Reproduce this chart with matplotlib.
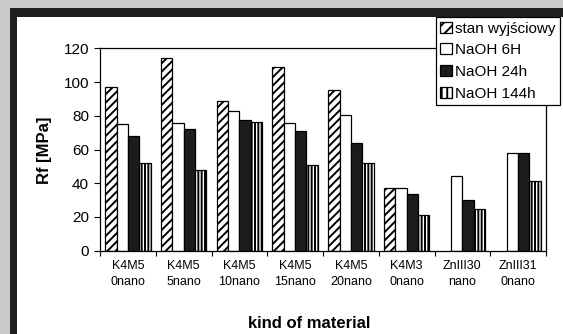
import matplotlib.pyplot as plt
import matplotlib.patches as mpatches
import numpy as np

plt.rcParams['font.family'] = ['Liberation Sans', 'DejaVu Sans']
plt.rcParams['hatch.linewidth'] = 1.4

# Data.
materials = ['K4M5\n0nano', 'K4M5\n5nano', 'K4M5\n10nano', 'K4M5\n15nano',
             'K4M5\n20nano', 'K4M3\n0nano', 'ZnIII30\nnano', 'ZnIII31\n0nano']
stan = [97, 114, 88.5, 109, 95.5, 37, np.nan, np.nan]
naoh_6h = [75, 75.5, 83, 75.5, 80.5, 37, 44.5, 58]
naoh_24h = [68, 72, 77.5, 71, 64, 33.5, 30, 58]
naoh_144h = [52, 48, 76.5, 51, 52, 21, 24.5, 41.5]

series = [
    ('stan wyjściowy', stan, 'white', '////'),
    ('NaOH 6H', naoh_6h, 'white', None),
    ('NaOH 24h', naoh_24h, '#1c1c1c', None),
    ('NaOH 144h', naoh_144h, 'white', '|||||'),
]

W, H = 563, 334
fig = plt.figure(figsize=(W / 100, H / 100), dpi=100)
fig.patch.set_facecolor('#c9c9c9')

# Black frame and white panel (cropped at the right and bottom).
fig.patches.append(mpatches.Rectangle((10 / W, -0.1), 1.2, 1 - 8.5 / H + 0.1,
                                      transform=fig.transFigure,
                                      facecolor='#1e1e1e', edgecolor='none',
                                      zorder=-10))
fig.patches.append(mpatches.Rectangle((17 / W, -0.1), 1.2, 1 - 17 / H + 0.1,
                                      transform=fig.transFigure,
                                      facecolor='white', edgecolor='none',
                                      zorder=-9))

ax = fig.add_axes([100 / W, 1 - 250.7 / H, 446 / W, (250.7 - 48.3) / H])
ax.set_facecolor('none')

x = np.arange(len(materials))
width = 0.203
handles = []
for i, (label, vals, color, hatch) in enumerate(series):
    pos = x + (i - 1.5) * width
    ax.bar(pos, vals, width, color=color, edgecolor='black',
           linewidth=0.9, hatch=hatch)
    handles.append(mpatches.Patch(facecolor=color, edgecolor='black',
                                  linewidth=0.9,
                                  hatch=None if hatch is None else hatch[:3],
                                  label=label))

ax.set_xlim(-0.5, len(materials) - 0.5)
ax.set_ylim(0, 120)
ax.set_yticks(np.arange(0, 121, 20))
ax.tick_params(axis='y', labelsize=11, length=4, width=0.8, pad=4)

ax.set_xticks(np.arange(len(materials) + 1) - 0.5)
ax.set_xticklabels([])
ax.set_xticks(x, minor=True)
ax.set_xticklabels(materials, minor=True, fontsize=9, linespacing=1.4)
ax.tick_params(axis='x', which='major', length=3.5, width=0.8)
ax.tick_params(axis='x', which='minor', length=0, pad=7)

for s in ax.spines.values():
    s.set_linewidth(0.9)
    s.set_color('black')

fig.text(45 / W, 1 - 150 / H, 'Rf [MPa]', rotation=90, fontsize=12,
         fontweight='bold', ha='center', va='center')
fig.text(309 / W, 1 - 323 / H, 'kind of material', fontsize=12,
         fontweight='bold', ha='center', va='center')

leg = fig.legend(handles=handles, loc='upper right',
                 bbox_to_anchor=(560 / W, 1 - 17 / H),
                 bbox_transform=fig.transFigure, fontsize=11,
                 frameon=True, fancybox=False, framealpha=1,
                 edgecolor='black', borderaxespad=0, borderpad=0.3,
                 handlelength=0.75, handleheight=0.75, handletextpad=0.2,
                 labelspacing=0.5)
leg.get_frame().set_linewidth(0.9)
leg.set_zorder(10)

fig.savefig('out.png', dpi=100, facecolor=fig.get_facecolor())
